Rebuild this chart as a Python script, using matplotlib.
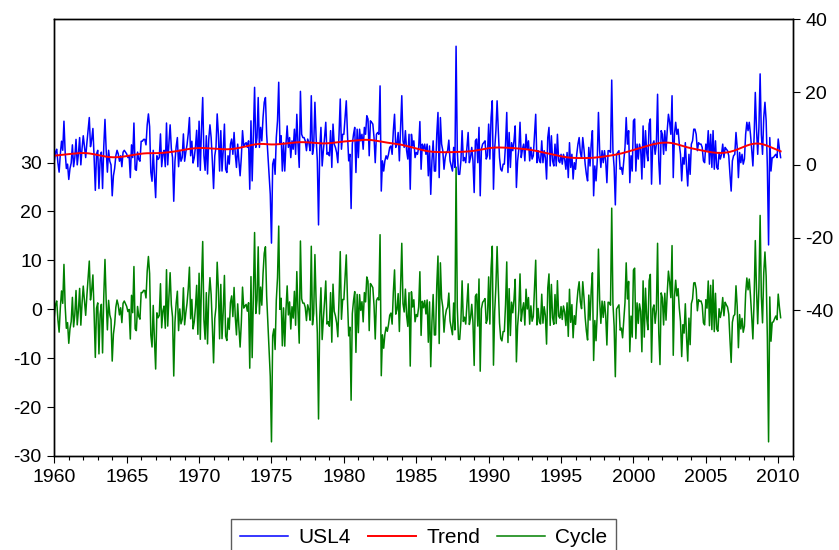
import numpy as np
import matplotlib
matplotlib.use('Agg')
import matplotlib.pyplot as plt
from matplotlib.ticker import MultipleLocator

plt.rcParams['font.family'] = ['Liberation Sans', 'DejaVu Sans']
plt.rcParams['axes.unicode_minus'] = False

# monthly USL4, 1960m01 - 2010m03 (right axis)
usl4_1960s = [
    1.0, 3.5, 4.3, 0.5, -2.0, 3.0, 6.5, 4.0, 12.0, 3.5, -1.0, 0.2,
    -4.0, -1.0, 0.5, 5.5, -0.5, 2.0, 7.0, 0.0, 3.0, 7.5, 0.0, 4.5,
    8.0, 5.0, 2.0, 6.0, 9.5, 13.0, 5.0, 7.0, 10.0, 2.0, -7.0, 3.0,
    4.0, -6.5, 1.5, 3.5, -6.5, 5.0, 12.5, 4.0, -2.0, 4.0, 1.0, 0.0,
    -8.5, -3.0, -1.0, 2.5, 4.0, 3.0, 1.0, 2.5, -0.5, 3.5, 4.0, 3.5,
    3.0, 2.0, 2.5, -3.5, 5.5, 2.0, 11.5, -1.2, -1.5, 3.5, 1.5, 1.0,
    6.5, 6.5, 7.0, 7.0, 5.5, 11.0, 14.0, 10.5, -2.0, -4.5, 4.0, -3.0,
    -9.0, 2.5, 1.5, 2.0, 8.5, -0.5, 3.0, 4.0, -0.5, 11.5, 0.0, 6.0,
    11.0, 4.5, 2.0, -10.0, 1.0, 5.0, 7.5, -0.5, 4.0, 1.0, 2.0, 8.5,
    1.0, 3.5, 5.5, 8.5, 13.0, 2.5, 6.5, 0.5, 2.0, 5.0, 9.5, -0.5,
]
usl4_1970s = [
    12.0, -1.5, 10.0, 18.5, 2.5, -1.5, 8.0, -2.5, 7.0, 11.0, 7.5, 1.0,
    -6.5, 2.5, 4.8, 14.0, 8.4, -1.7, 9.4, -1.7, 3.9, 11.2, -1.2, -2.1,
    2.5, 0.2, 5.7, 7.1, 2.9, 8.9, 2.9, -0.7, 5.7, 1.1, -3.0, 2.0,
    9.4, 5.2, 5.7, 6.1, 4.8, 6.6, -6.7, 12.1, -4.4, 8.4, 21.3, 4.8,
    7.5, 18.5, 4.8, 10.3, 6.6, 13.0, 17.2, 18.5, 8.4, 2.9, -2.6, -8.1,
    -21.5, 0.2, 1.6, -2.6, 7.5, 12.1, 22.7, 5.7, 8.0, -1.7, 6.1, -1.7,
    5.7, 10.7, 4.8, 7.5, 2.0, 6.6, 4.3, 9.8, 2.9, 13.9, 5.7, -0.7,
    20.2, 8.4, 7.5, 7.5, 6.6, 3.9, 7.1, 6.1, 3.9, 19.0, 2.9, 5.2,
    17.2, 7.5, 1.1, -16.5, 4.3, 10.3, -0.3, 3.9, 7.5, 11.7, 2.9, 3.4,
    2.5, 9.4, -0.7, 11.2, 5.7, 4.8, 3.4, 0.6, 8.4, 18.1, 4.3, 8.4,
]
usl4_1980s = [
    8.4, 13.0, 17.6, 8.4, 1.1, 2.9, -12.0, 5.7, 8.4, 10.3, -2.1, 9.8,
    2.0, 9.8, 6.6, 8.4, 4.3, 10.3, 8.4, 13.5, 12.6, 2.5, 12.1, 11.7,
    11.2, 7.5, 0.6, 8.4, 8.9, 8.4, 21.7, -7.2, 1.1, -1.7, 1.1, 2.5,
    1.6, 2.9, 4.8, 5.2, 2.9, 9.4, 13.9, 4.8, 5.7, 8.9, 1.1, 10.3,
    19.0, 6.6, 4.8, 9.4, 3.9, 1.6, 8.4, -6.7, 8.4, 5.2, 6.6, 2.0,
    3.4, 2.9, 4.8, 11.9, -1.2, 5.7, 4.3, 5.7, 2.9, 5.7, -3.0, 5.2,
    -8.1, 1.1, 6.6, -1.7, -1.7, 8.4, 14.4, -3.5, 13.0, 5.7, 3.9, -1.2,
    2.0, 3.4, 3.9, 6.8, 1.1, -0.3, -1.7, 4.8, -0.7, 32.6, 3.9, -2.6,
    -2.6, 1.1, 9.4, 1.1, 2.0, 0.6, 4.8, 8.9, 0.6, 2.0, 4.8, 1.1,
    -7.6, 6.6, 7.1, 0.6, 10.3, -8.5, 4.3, 5.7, 6.1, 6.6, 1.6, 2.5,
]
usl4_1990s = [
    11.2, 1.6, 13.0, 17.6, -6.7, 4.3, 9.4, 17.6, 9.4, 2.0, -1.2, -1.7,
    0.2, 0.2, 5.7, 14.4, -2.1, 8.9, -0.7, 6.1, 3.9, 6.6, 10.7, -6.2,
    1.1, 4.3, 11.7, 2.0, 4.3, 5.7, 1.1, 8.4, 4.3, 6.6, 1.1, 4.8,
    1.6, 2.5, 8.4, 13.9, 0.6, 3.9, 1.1, 0.6, 6.6, 0.6, 3.9, 2.0,
    -3.9, 7.5, 10.3, -0.3, 8.0, 1.1, -0.3, 5.7, -0.3, 8.4, 1.1, 0.6,
    2.9, 0.2, 2.9, 1.6, -1.2, 3.4, -3.5, 6.1, -0.7, 2.9, -3.9, 0.6,
    -1.2, 2.9, 5.7, 7.5, 3.4, 2.0, 7.5, 4.3, 0.2, -2.6, -4.4, 4.8,
    -0.3, 5.7, 9.4, -8.5, -0.3, -4.4, 1.1, 14.4, 3.9, -0.7, 3.9, 0.6,
    3.9, 1.1, -4.9, 3.9, 3.9, 3.4, 23.3, 3.9, -0.7, -11.0, 2.9, 3.4,
    3.9, -1.2, -0.7, -2.6, 1.1, 4.8, 13.0, 5.7, 9.4, -4.9, 2.5, -1.7,
]
usl4_2000s = [
    12.1, 12.6, -1.7, 5.7, 1.6, 5.7, 4.3, -3.9, 10.7, -0.7, 9.4, 3.4,
    1.1, 11.2, 12.6, -5.3, 5.7, 6.6, 2.9, 5.7, 19.4, 1.1, -5.3, 9.4,
    8.4, 2.9, 9.4, 3.9, 9.4, 13.9, 11.7, 8.4, 19.0, -3.5, 8.4, 11.7,
    8.4, 9.8, 5.7, 2.9, -4.4, 2.0, 0.2, 6.1, -0.7, -5.8, 2.9, -2.6,
    5.7, 6.6, 9.8, 9.8, 8.4, 3.9, 6.1, 5.7, 5.7, 4.8, 1.1, 0.6,
    5.7, 3.9, 9.4, 0.2, 8.4, -0.7, 9.4, -1.2, 6.6, -0.7, -1.2, 3.4,
    1.6, 2.9, 5.7, 2.0, 4.8, 4.3, 3.9, 2.5, -2.6, -7.2, 1.1, 2.5,
    2.9, 8.9, 4.8, -3.5, 3.4, 0.6, 2.9, 0.2, 1.6, 8.4, 11.7, 9.4,
    11.7, 8.4, 4.3, -0.3, 7.5, 19.9, 9.8, 2.9, 10.3, 25.0, 8.4, 2.9,
    13.0, 17.2, 12.1, -0.7, -22.0, 7.5, -1.7, 2.0, 2.0, 2.5, 2.9, 2.0,
]
usl4_2010 = [7.1, 4.3, 2.0]

series_names = ['USL4', 'Trend', 'Cycle']
year_ticks = list(range(1960, 2011, 5))
left_ticks = [-30, -20, -10, 0, 10, 20, 30]
right_ticks = [-40, -20, 0, 20, 40]


def hp_filter(y, lam=14400.0):
    # Hodrick-Prescott trend (monthly lambda)
    n = len(y)
    D = np.zeros((n - 2, n))
    for i in range(n - 2):
        D[i, i:i + 3] = [1.0, -2.0, 1.0]
    return np.linalg.solve(np.eye(n) + lam * D.T @ D, y)


usl4 = np.array(usl4_1960s + usl4_1970s + usl4_1980s + usl4_1990s + usl4_2000s + usl4_2010)
dates = 1960 + np.arange(len(usl4)) / 12.0
trend = hp_filter(usl4)
cycle = usl4 - trend

fig = plt.figure(figsize=(8.39, 5.5), dpi=100)
ax = fig.add_axes([54.3 / 839, 1 - 456 / 550, (792.7 - 54.3) / 839, (456 - 19.3) / 550])
ax2 = ax.twinx()

l3, = ax.plot(dates, cycle, color='#008000', lw=1.1)
l1, = ax2.plot(dates, usl4, color='#0000FF', lw=1.1)
l2, = ax2.plot(dates, trend, color='#FF0000', lw=1.4)

ax.set_xlim(1960, 2011)
ax.set_ylim(-30, 59.3)
ax2.set_ylim(-80, 40)

ax.set_xticks(year_ticks)
ax.xaxis.set_minor_locator(MultipleLocator(1))
ax.set_yticks(left_ticks)
ax2.set_yticks(right_ticks)

ax.tick_params(axis='x', which='major', direction='out', length=5, width=0.8, labelsize=14, pad=4)
ax.tick_params(axis='x', which='minor', direction='out', length=3, width=0.8)
ax.tick_params(axis='y', direction='out', length=5, width=0.8, labelsize=14, pad=4)
ax2.tick_params(axis='y', direction='out', length=5, width=0.8, labelsize=14, pad=4)
for a in (ax, ax2):
    for s in a.spines.values():
        s.set_linewidth(1.0)
        s.set_color('black')

leg = fig.legend([l1, l2, l3], series_names, loc='upper center',
                 bbox_to_anchor=(0.505, 1 - 519 / 550), ncol=3, fontsize=15,
                 frameon=True, fancybox=False, handlelength=2.3, handletextpad=0.5,
                 columnspacing=0.8, borderpad=0.45, borderaxespad=0)
leg.get_frame().set_edgecolor('#333333')
leg.get_frame().set_linewidth(1.0)

fig.savefig('out.png', dpi=100)
